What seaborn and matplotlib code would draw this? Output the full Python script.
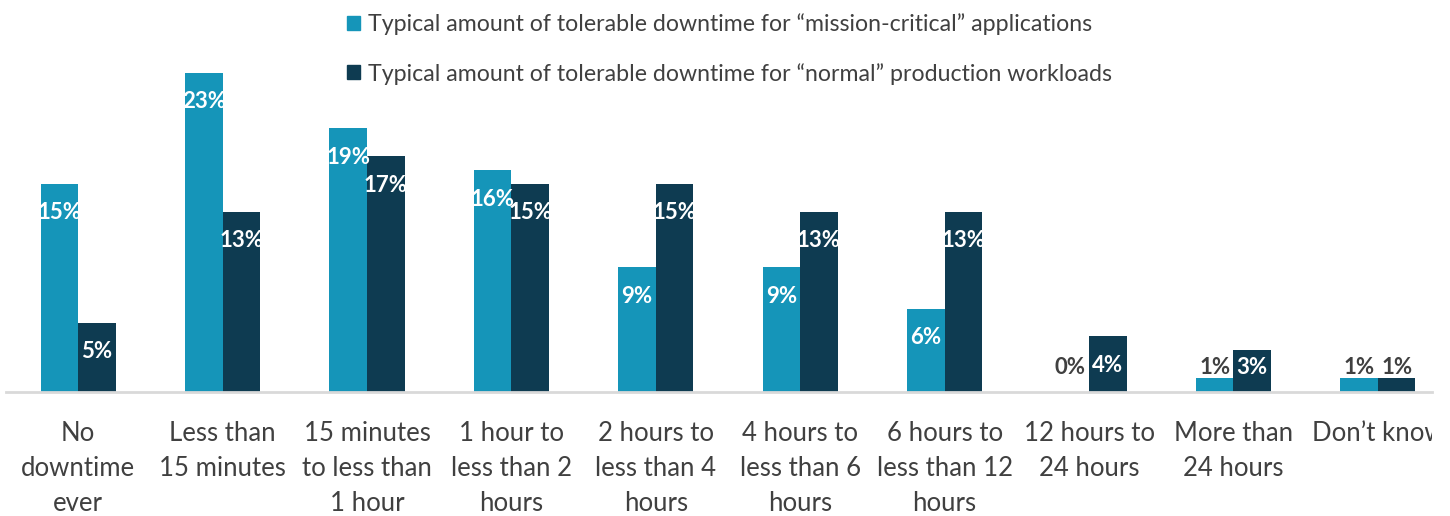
import pandas as pd
import matplotlib.pyplot as plt
import seaborn as sns
from matplotlib.patches import Patch
from matplotlib.transforms import Bbox, TransformedBbox

# data
categories = ["No\ndowntime\never", "Less than\n15 minutes", "15 minutes\nto less than\n1 hour",
              "1 hour to\nless than 2\nhours", "2 hours to\nless than 4\nhours", "4 hours to\nless than 6\nhours",
              "6 hours to\nless than 12\nhours", "12 hours to\n24 hours", "More than\n24 hours", "Don\u2019t know"]
mission_critical = [15, 23, 19, 16, 9, 9, 6, 0, 1, 1]
normal_workloads = [5, 13, 17, 15, 15, 13, 13, 4, 3, 1]
series_names = ["Typical amount of tolerable downtime for \u201cmission-critical\u201d applications",
                "Typical amount of tolerable downtime for \u201cnormal\u201d production workloads"]
colors = ["#1595b9", "#0e3b51"]

df = pd.DataFrame({
    "category": categories * 2,
    "value": mission_critical + normal_workloads,
    "series": [series_names[0]] * len(categories) + [series_names[1]] * len(categories),
})

sns.set_style("white")
plt.rcParams['font.family'] = ['Lato', 'DejaVu Sans']

fig = plt.figure(figsize=(14.5, 5.16), dpi=100)
ax = fig.add_axes([6 / 1450, 124 / 516, (1432 - 6) / 1450, (392 - 45) / 516])

sns.barplot(data=df, x="category", y="value", hue="series", palette=colors,
            width=0.52, gap=0, saturation=1, linewidth=0, ax=ax, legend=False)

# value labels, white inside the bar end, gray for tiny bars
for cont in ax.containers:
    for bar in cont:
        v = bar.get_height()
        y = max(v - 2.1, 1.8)
        col = "white" if v >= 3 else "#404040"
        ax.text(bar.get_x() + bar.get_width() / 2, y, f"{v:.0f}%", ha="center", va="center",
                color=col, fontsize=16, fontweight="bold")

ax.set_xlim(-0.5, 9.375)
ax.set_ylim(0, 25)
ax.set_xlabel("")
ax.set_ylabel("")
ax.set_yticks([])
ax.tick_params(axis="x", length=0, pad=21, labelsize=18.5, labelcolor="#404040")
clip = TransformedBbox(Bbox([[0, 0], [1432 / 1450, 1]]), fig.transFigure)
for lab in ax.get_xticklabels():
    lab.set_linespacing(1.5)
    lab.set_clip_on(True)
    lab.set_clip_box(clip)
for s in ["top", "right", "left"]:
    ax.spines[s].set_visible(False)
ax.spines["bottom"].set_color("#d9d9d9")
ax.spines["bottom"].set_linewidth(2)

handles = [Patch(color=c) for c in colors]
fig.legend(handles, series_names, loc="upper left", bbox_to_anchor=(326 / 1450, 1.015),
           frameon=False, fontsize=16.7, handlelength=0.55, handleheight=0.55,
           handletextpad=0.35, labelspacing=1.2, labelcolor="#404040")

fig.savefig("out.png", dpi=100)
